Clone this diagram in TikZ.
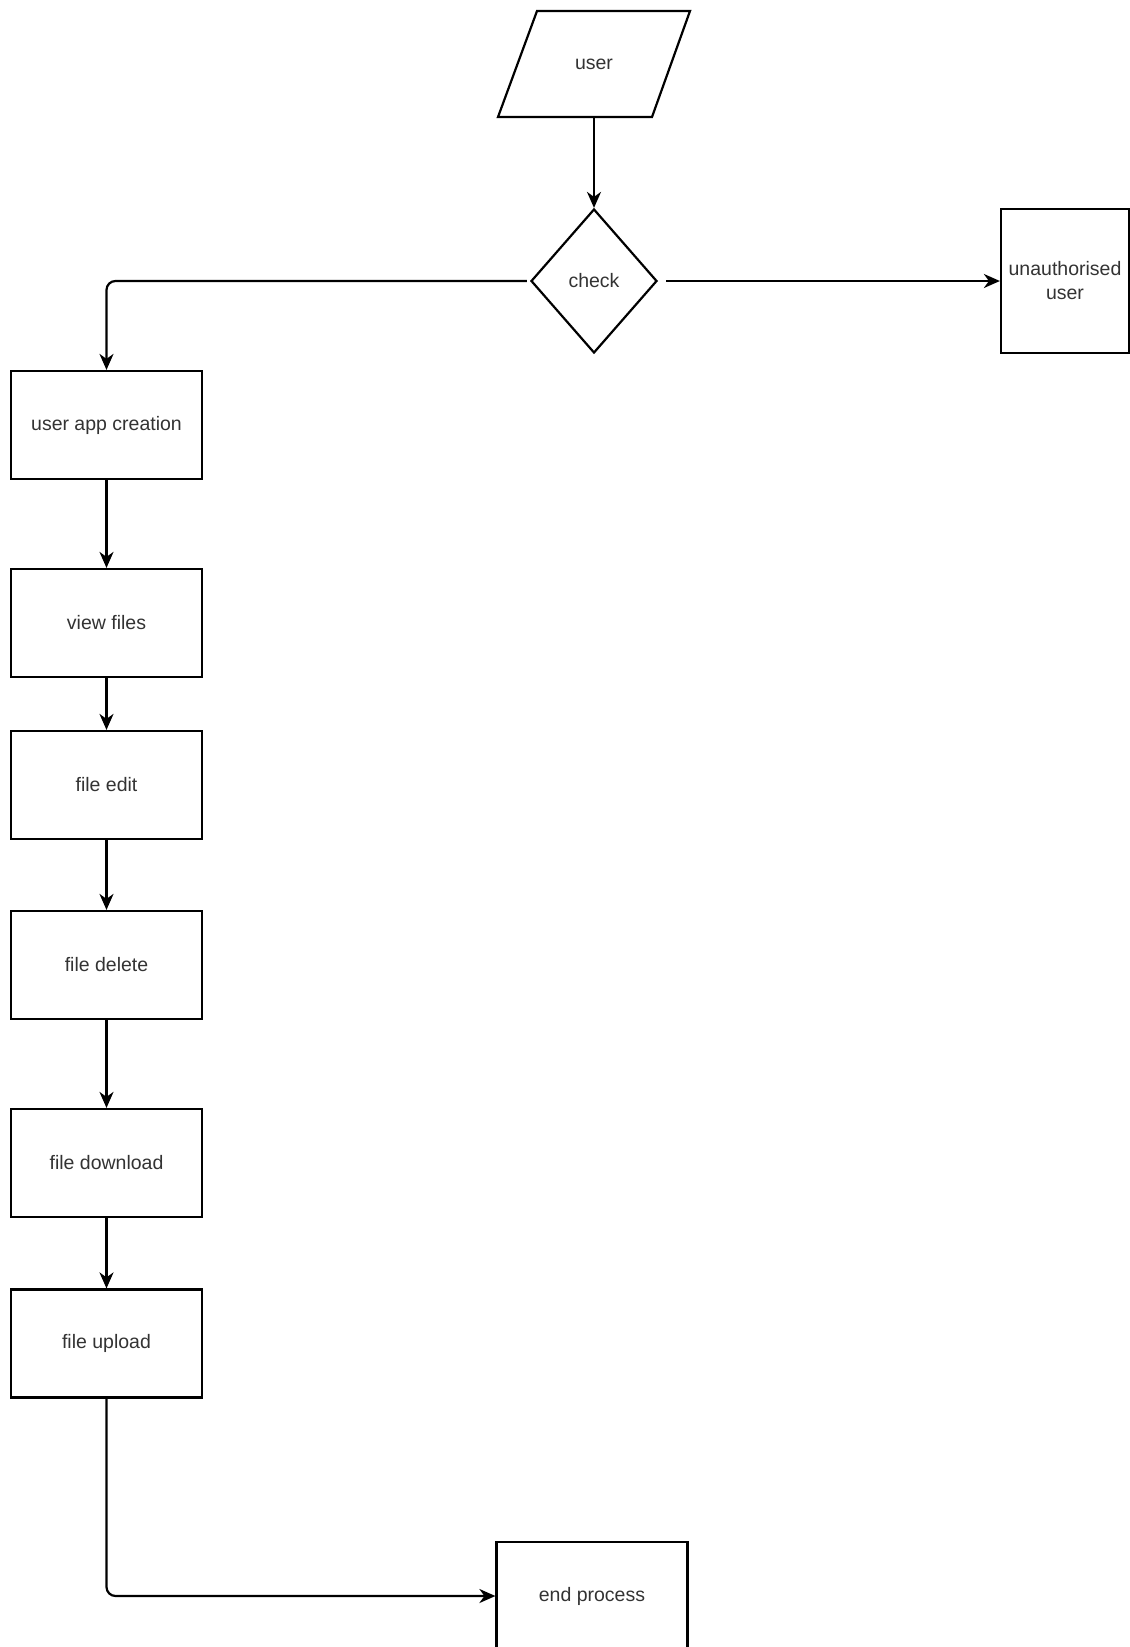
\documentclass[tikz,border=0pt]{standalone}
\usepackage{fontspec}
\setmainfont{Liberation Sans}
\usetikzlibrary{shapes.geometric,arrows.meta}
\begin{document}
\begin{tikzpicture}[x=1pt,y=-1pt,
  every node/.style={font=\fontsize{19.5}{24}\selectfont, text=black!80, align=center},
  box/.style={draw=black, line width=2.2pt, minimum width=191pt, minimum height=108pt, inner sep=0pt},
  conn/.style={draw=black, line width=2.2pt, -{Stealth[length=16pt,width=14pt,inset=5pt]}, rounded corners=9pt}
]
\useasboundingbox[fill=white] (0,0) rectangle (1130,1647);
% user (parallelogram)
\draw[line width=2.2pt, line join=miter] (537,11) -- (690,11) -- (652,117) -- (498,117) -- cycle;
\node[inner sep=0pt, minimum height=106pt] (user) at (594,64) {user};
% check
\node[draw=black, line width=2.2pt, shape=diamond, minimum width=126pt, minimum height=144pt, inner sep=0pt] (check) at (594,281) {check};
% unauthorised
\node[box, minimum width=128pt, minimum height=144pt] (unauth) at (1065,281) {unauthorised\\user};
% column
\node[box] (create) at (106.5,425) {user app creation};
\node[box] (view) at (106.5,623) {view files};
\node[box] (edit) at (106.5,785) {file edit};
\node[box] (delete) at (106.5,965) {file delete};
\node[box] (download) at (106.5,1163) {file download};
\node[box] (upload) at (106.5,1343.5) {file upload};
\node[box] (endp) at (592,1596) {end process};
% connectors
\draw[conn] (user.south) -- (check.north);
\draw[conn, shorten <=8pt] (check.east) -- (unauth.west);
\draw[conn, shorten <=3pt] (check.west) -| (create.north);
\draw[conn] (create) -- (view);
\draw[conn] (view) -- (edit);
\draw[conn] (edit) -- (delete);
\draw[conn] (delete) -- (download);
\draw[conn] (download) -- (upload);
\draw[conn] (upload.south) |- (endp.west);
\end{tikzpicture}
\end{document}
